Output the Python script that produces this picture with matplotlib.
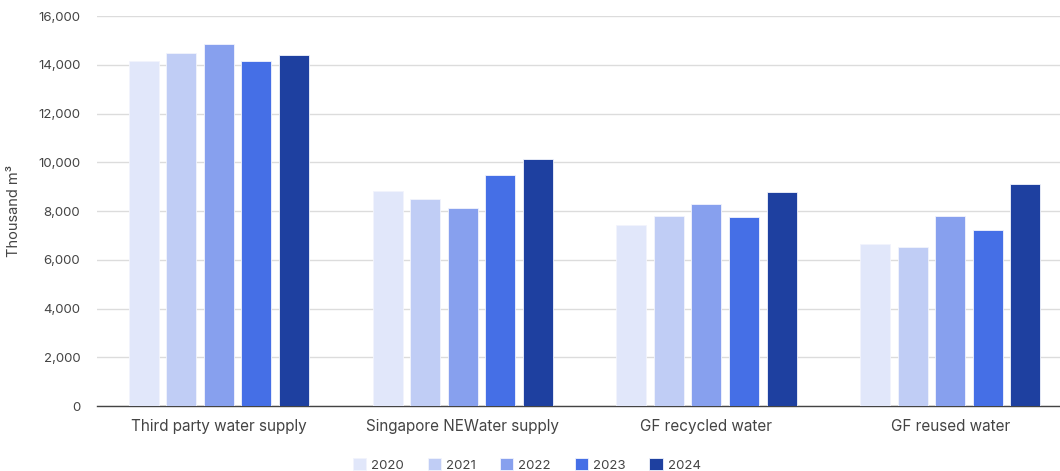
import numpy as np
import matplotlib.pyplot as plt
from matplotlib.ticker import FuncFormatter

plt.rcParams['font.family'] = ['Inter', 'DejaVu Sans']

categories = ['Third party water supply', 'Singapore NEWater supply',
              'GF recycled water', 'GF reused water']
years = ['2020', '2021', '2022', '2023', '2024']
v2020 = [14150, 8830, 7430, 6650]
v2021 = [14480, 8500, 7800, 6510]
v2022 = [14850, 8130, 8270, 7800]
v2023 = [14150, 9480, 7750, 7220]
v2024 = [14400, 10130, 8780, 9120]
series = [v2020, v2021, v2022, v2023, v2024]
colors = ['#e1e7fa', '#c0cdf5', '#87a0ee', '#456fe6', '#1e40a0']

fig = plt.figure(figsize=(10.6, 4.71), dpi=100)
# axes run a little past the right edge of the picture, as in the original
ax = fig.add_axes([0.0915, 0.138, 0.92, 0.828])

x = np.arange(len(categories))
w = 0.123
step = 0.154
for i, (vals, c) in enumerate(zip(series, colors)):
    ax.bar(x + (i - 2) * step, vals, width=w, color=c, edgecolor='#f2f4fc',
           linewidth=0.6, label=years[i], zorder=3)

ax.set_xlim(-0.5, 3.5)
ax.set_ylim(0, 16000)
ax.set_yticks(np.arange(0, 16001, 2000))
ax.yaxis.set_major_formatter(FuncFormatter(lambda v, p: f'{int(v):,}'))
ax.grid(axis='y', color='#dcdcdc', linewidth=1, zorder=0)
ax.set_xticks(x)
ax.set_xticklabels(categories, fontsize=11, color='#444444')
ax.tick_params(axis='y', labelsize=9.5, colors='#444444', length=0, pad=12)
ax.tick_params(axis='x', length=0, pad=9)
for s in ['top', 'right', 'left']:
    ax.spines[s].set_visible(False)
ax.spines['bottom'].set_color('#444444')
ax.spines['bottom'].set_linewidth(1)
ax.set_ylabel('Thousand m³', fontsize=10.5, color='#444444', labelpad=12)

leg = fig.legend(loc='lower center', bbox_to_anchor=(0.497, -0.027), ncol=5,
                 frameon=False, fontsize=9.5, handlelength=1.0, handleheight=1.0,
                 handletextpad=0.4, columnspacing=1.8)
for t in leg.get_texts():
    t.set_color('#444444')

fig.savefig('out.png', dpi=100)
